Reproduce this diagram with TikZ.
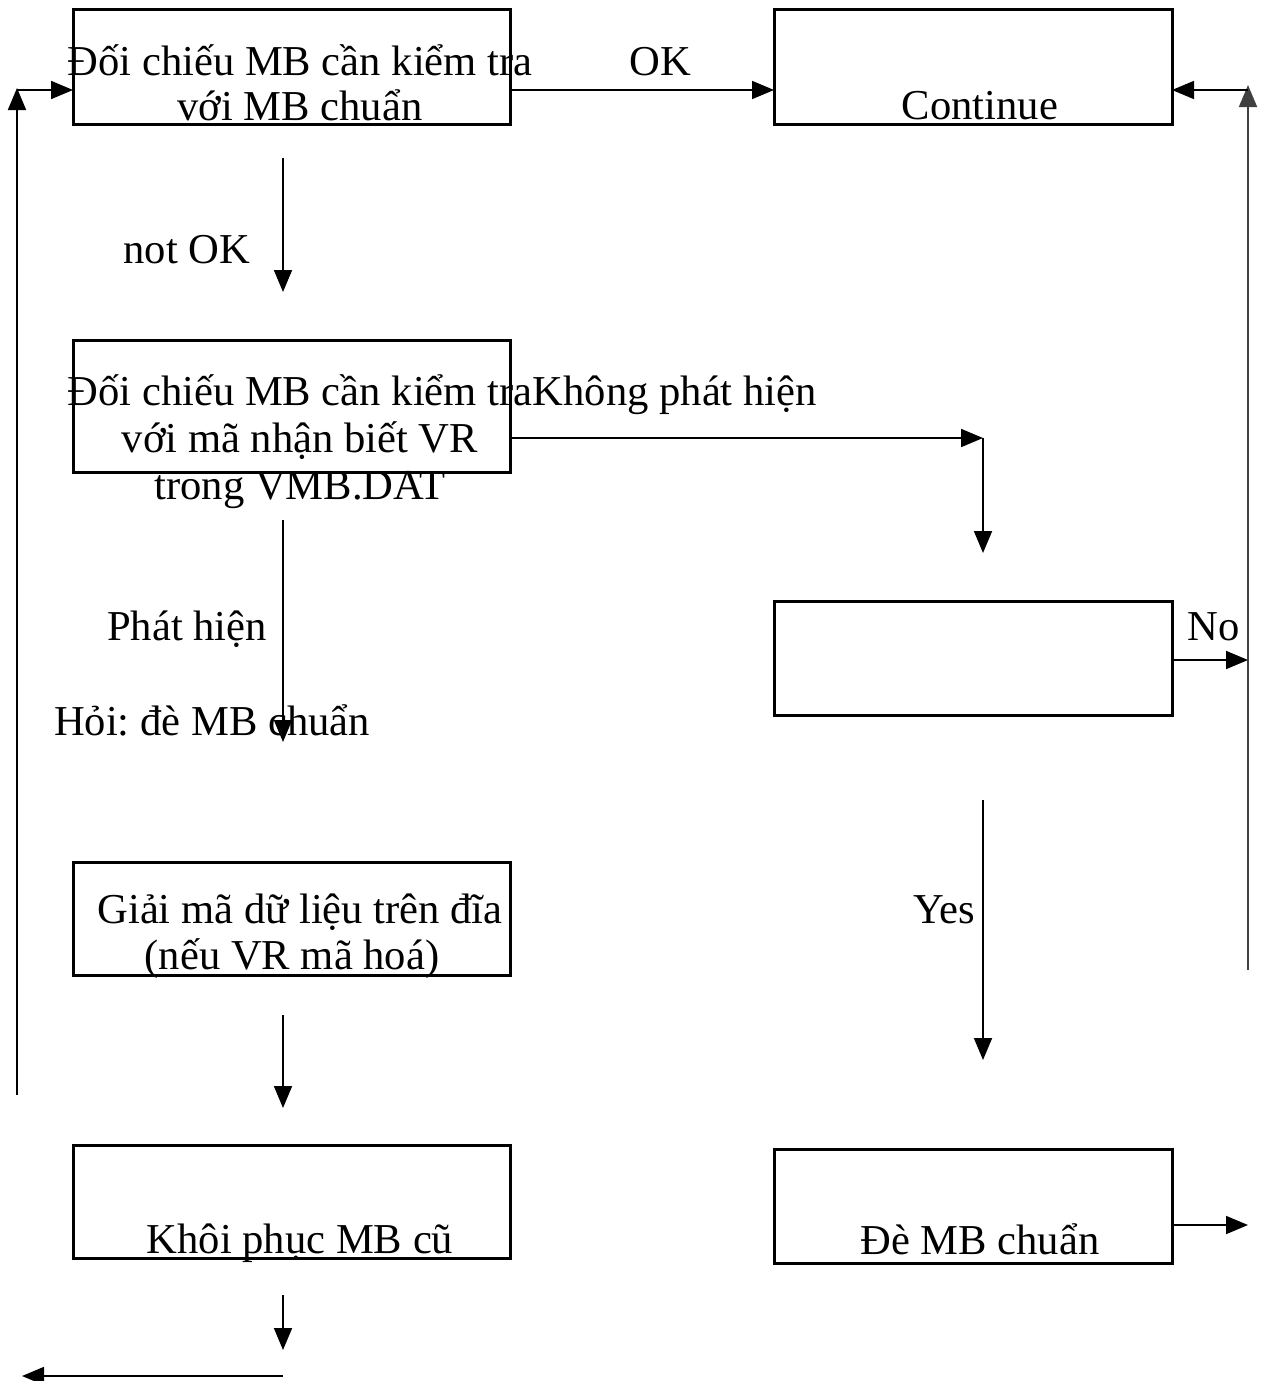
\documentclass[tikz,border=0pt]{standalone}
\usepackage{fontspec}
\setmainfont{Liberation Serif}
\usetikzlibrary{arrows.meta}
\frenchspacing
\begin{document}
\begin{tikzpicture}[x=1pt,y=-1pt,
  box/.style={draw,line width=3pt,minimum width=437pt,inner sep=0pt,outer sep=0pt},
  lbl/.style={anchor=base,inner sep=0pt,font=\fontsize{42.6}{48}\selectfont},
  conn/.style={line width=1.8pt,-{Triangle[length=22pt,width=18pt]}}]
\useasboundingbox (0,0) rectangle (1264,1381);
\fill[white] (0,0) rectangle (1264,1381);

% boxes
\node[box,minimum height=114pt] (b1) at (291.5,67) {};
\node[box,minimum height=114pt,minimum width=398pt] (b2) at (973,67) {};
\node[box,minimum height=132pt] (b3) at (291.5,406) {};
\node[box,minimum height=114pt,minimum width=398pt] (b4) at (973,658) {};
\node[box,minimum height=113pt] (b5) at (291.5,918.5) {};
\node[box,minimum height=113pt] (b6) at (291.5,1201.5) {};
\node[box,minimum height=114pt,minimum width=398pt] (b7) at (973,1206) {};

% texts
\node[lbl] (t1a) at (300,76) {Đối chiếu MB cần kiểm tra};
\node[lbl] (t1b) at (300,120) {với MB chuẩn};
\node[lbl] (tok) at (660,75) {OK};
\node[lbl] (tcont) at (980,119) {Continue};
\node[lbl] (tnok) at (187,263) {not OK};
\node[lbl] (t3a) at (300,405) {Đối chiếu MB cần kiểm tra};
\node[lbl,anchor=base west] (tkph) at (t3a.base east) {Không phát hiện};
\node[lbl] (t3b) at (300,452) {với mã nhận biết VR};
\node[lbl] (t3c) at (300,499) {trong VMB.DAT};
\node[lbl] (tph) at (187,640) {Phát hiện};
\node[lbl] (tno) at (1214,640) {No};
\node[lbl] (thoi) at (212,735) {Hỏi: đè MB chuẩn};
\node[lbl] (tyes) at (944,923) {Yes};
\node[lbl] (t5a) at (300,923) {Giải mã dữ liệu trên đĩa};
\node[lbl] (t5b) at (292,969) {(nếu VR mã hoá)};
\node[lbl] (t6) at (300,1253) {Khôi phục MB cũ};
\node[lbl] (t7) at (980,1254) {Đè MB chuẩn};

% free connector ends
\coordinate (l0) at (17,1095);
\coordinate (l1) at (17,90);
\coordinate (r0) at (1248,970);
\coordinate (r1) at (1248,90);
\coordinate (d1s) at (283,158);
\coordinate (d1e) at (283,292);
\coordinate (k1) at (983,438);
\coordinate (k2) at (983,553);
\coordinate (d2s) at (283,520);
\coordinate (d2e) at (283,742);
\coordinate (n1) at (1248,660);
\coordinate (y0) at (983,800);
\coordinate (y1) at (983,1060);
\coordinate (d3s) at (283,1015);
\coordinate (d3e) at (283,1108);
\coordinate (e1) at (1248,1225);
\coordinate (d4s) at (283,1295);
\coordinate (d4e) at (283,1350);
\coordinate (f0) at (283,1376);
\coordinate (f1) at (22,1376);

% connectors
\draw[conn] (l0) -- ([yshift=2pt]l1);
\draw[conn] (l1) -- (b1.west |- l1);
\draw[conn] (b1.east |- l1) -- (b2.west |- l1);
\draw[conn,draw=black!75] (r0) -- ([yshift=5pt]r1);
\draw[conn] (r1) -- (b2.east |- r1);
\draw[conn] (d1s) -- (d1e);
\draw[conn] (b3.east |- k1) -- (k1);
\draw[conn] (k1) -- (k2);
\draw[conn] (d2s) -- (d2e);
\draw[conn] (b4.east |- n1) -- (n1);
\draw[line width=1.8pt,draw=black!75] (n1) -- ++(0,-10);
\draw[conn] (y0) -- (y1);
\draw[conn] (d3s) -- (d3e);
\draw[conn] (b7.east |- e1) -- (e1);
\draw[conn] (d4s) -- (d4e);
\draw[conn] (f0) -- (f1);
\end{tikzpicture}
\end{document}
